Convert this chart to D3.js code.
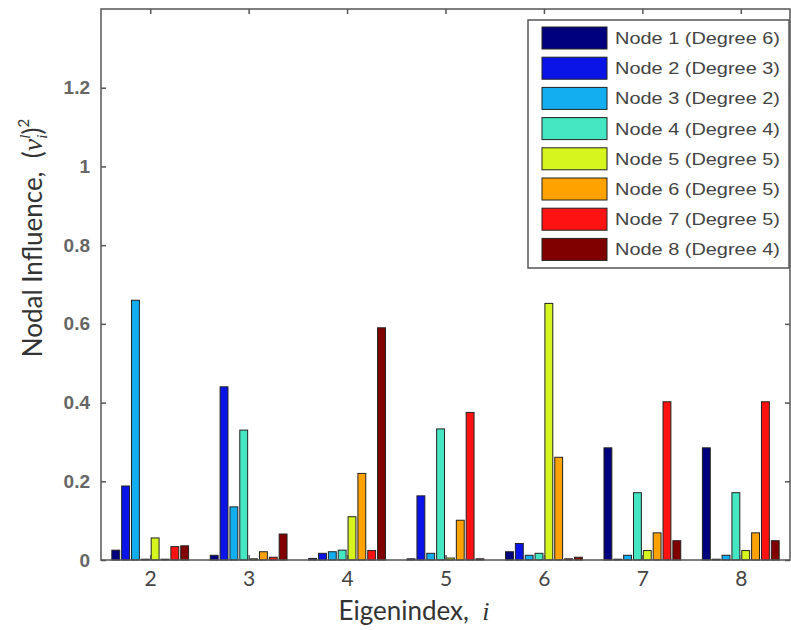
<!DOCTYPE html>
<html><head><meta charset="utf-8">
<script src="https://cdn.jsdelivr.net/npm/d3@7/dist/d3.min.js"></script>
<style>body{margin:0;background:#fff}svg{display:block}text{white-space:pre}</style>
</head><body>
<svg id="c" width="791" height="630"></svg>
<script>
const eigenindex = [2, 3, 4, 5, 6, 7, 8];
const nodes = ["Node 1 (Degree 6)","Node 2 (Degree 3)","Node 3 (Degree 2)","Node 4 (Degree 4)",
               "Node 5 (Degree 5)","Node 6 (Degree 5)","Node 7 (Degree 5)","Node 8 (Degree 4)"];
const colors = ["#00007e","#0a14e6","#12aef0","#45e6c2","#d6f51f","#ffa200","#ff1212","#800000"];
// values[node][eigenindex]
const node1 = [0.025, 0.012, 0.004, 0.003, 0.021, 0.285, 0.285];
const node2 = [0.188, 0.440, 0.017, 0.163, 0.042, 0.002, 0.002];
const node3 = [0.660, 0.135, 0.021, 0.017, 0.012, 0.012, 0.012];
const node4 = [0.002, 0.330, 0.025, 0.333, 0.017, 0.171, 0.171];
const node5 = [0.056, 0.003, 0.110, 0.005, 0.652, 0.024, 0.024];
const node6 = [0.002, 0.021, 0.220, 0.101, 0.261, 0.069, 0.069];
const node7 = [0.034, 0.007, 0.024, 0.375, 0.003, 0.402, 0.402];
const node8 = [0.036, 0.066, 0.590, 0.003, 0.007, 0.049, 0.049];
const series = [node1,node2,node3,node4,node5,node6,node7,node8];
const yTicks = [0, 0.2, 0.4, 0.6, 0.8, 1, 1.2];

const svg = d3.select("#c");
const L = 101, R = 790, T = 9, B = 560;
const x = d3.scaleLinear().domain([1.5, 8.5]).range([L, R]);
const y = d3.scaleLinear().domain([0, 1.4]).range([B, T]);
const axisColor = "#555";

// bars
const slot = 0.1, bw = 0.08;
series.forEach((vals, si) => {
  svg.append("g").selectAll("rect").data(vals).join("rect")
    .attr("x", (d, i) => x(eigenindex[i] - 0.4 + slot * si + (slot - bw) / 2))
    .attr("width", x(bw) - x(0))
    .attr("y", d => y(d))
    .attr("height", d => y(0) - y(d))
    .attr("fill", colors[si])
    .attr("stroke", "#222").attr("stroke-width", 1);
});

// axes box
svg.append("rect").attr("x", L).attr("y", T).attr("width", R - L).attr("height", B - T)
  .attr("fill", "none").attr("stroke", axisColor).attr("stroke-width", 1.5);

const gy = svg.append("g").attr("transform", `translate(${L},0)`)
  .call(d3.axisLeft(y).tickValues(yTicks).tickSizeInner(-5).tickSizeOuter(0).tickPadding(11).tickFormat(d3.format("~g")));
const gyR = svg.append("g").attr("transform", `translate(${R},0)`)
  .call(d3.axisRight(y).tickValues(yTicks).tickSizeInner(-5).tickSizeOuter(0).tickFormat(""));
const gx = svg.append("g").attr("transform", `translate(0,${B})`)
  .call(d3.axisBottom(x).tickValues(eigenindex).tickSizeInner(-5).tickSizeOuter(0).tickPadding(11).tickFormat(d3.format("d")));
const gxT = svg.append("g").attr("transform", `translate(0,${T})`)
  .call(d3.axisTop(x).tickValues(eigenindex).tickSizeInner(-5).tickSizeOuter(0).tickFormat(""));
[gy, gyR, gx, gxT].forEach(g => {
  g.select(".domain").remove();
  g.selectAll("line").attr("stroke", axisColor).attr("stroke-width", 1.5);
});
gy.selectAll("text").attr("font-family", "Liberation Sans, Arial, sans-serif")
  .attr("font-size", 19).attr("font-weight", "bold").attr("fill", "#666");
gx.selectAll("text").attr("font-family", "Lato, sans-serif")
  .attr("font-size", 21).attr("fill", "#444");

// x label
const xl = svg.append("text").attr("x", 414).attr("y", 620).attr("text-anchor", "middle")
  .attr("font-family", "Lato, sans-serif").attr("font-size", 26).attr("fill", "#333");
xl.append("tspan").text("Eigenindex,  ");
xl.append("tspan").attr("font-family", "Liberation Serif, serif").attr("font-style", "italic").text("i");

// y label
const yl = svg.append("text").attr("transform", "translate(42,238) rotate(-90)")
  .attr("text-anchor", "middle").attr("font-family", "Lato, sans-serif")
  .attr("font-size", 26).attr("fill", "#333");
yl.append("tspan").text("Nodal Influence,  (");
yl.append("tspan").attr("font-family", "Liberation Serif, serif").attr("font-style", "italic").attr("font-size", 28).text("v");
yl.append("tspan").attr("font-family", "Liberation Serif, serif").attr("font-style", "italic")
  .attr("font-size", 15).attr("dy", 5).text("i");
yl.append("tspan").attr("font-family", "Liberation Serif, serif").attr("font-style", "italic")
  .attr("font-size", 15).attr("dx", -4).attr("dy", -17).text("l");
yl.append("tspan").attr("dy", 12).text(")");
yl.append("tspan").attr("font-size", 15).attr("dy", -13).text("2");

// legend
const lg = svg.append("g");
lg.append("rect").attr("x", 528).attr("y", 20).attr("width", 261).attr("height", 248)
  .attr("fill", "#fff").attr("stroke", axisColor).attr("stroke-width", 1.5);
const rows = lg.selectAll("g.row").data(nodes).join("g").attr("class", "row")
  .attr("transform", (d, i) => `translate(0,${27 + i * 30.2})`);
rows.append("rect").attr("x", 542).attr("y", 0).attr("width", 65).attr("height", 22)
  .attr("fill", (d, i) => colors[i]).attr("stroke", "#222").attr("stroke-width", 1);
rows.append("text").attr("x", 615).attr("y", 17).text(d => d)
  .attr("font-family", "Liberation Sans, Arial, sans-serif").attr("font-size", 17)
  .attr("fill", "#444").attr("textLength", 165).attr("lengthAdjust", "spacingAndGlyphs");
</script>
</body></html>
